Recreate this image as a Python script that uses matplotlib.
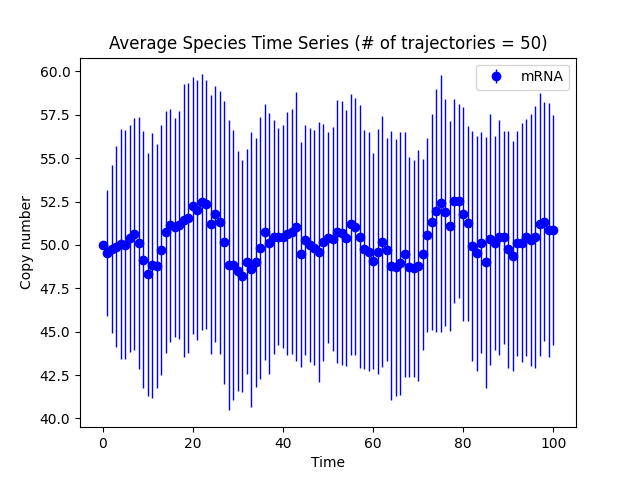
import numpy as np
import matplotlib
matplotlib.use("Agg")
import matplotlib.pyplot as plt

# time points 0..100, mean copy number and its std over the 50 trajectories
time = np.arange(101)

mean = [
    50.00, 49.55, 49.77, 49.90, 50.07, 50.02, 50.37, 50.64, 50.10, 49.14,
    48.30, 48.82, 48.78, 49.71, 50.73, 51.14, 51.02, 51.15, 51.42, 51.55,
    52.27, 52.01, 52.47, 52.33, 51.18, 51.79, 51.31, 50.15, 48.84, 48.84,
    48.51, 48.20, 49.03, 48.59, 48.99, 49.80, 50.73, 50.09, 50.48, 50.48,
    50.48, 50.65, 50.77, 51.05, 49.46, 50.27, 50.00, 49.84, 49.61, 50.15,
    50.42, 50.34, 50.77, 50.67, 50.38, 51.19, 51.05, 50.48, 49.74, 49.61,
    49.07, 49.61, 50.19, 49.71, 48.80, 48.70, 48.94, 49.46, 48.70, 48.65,
    48.80, 49.46, 50.57, 51.31, 51.96, 52.40, 51.88, 51.09, 52.54, 52.54,
    51.77, 51.25, 49.96, 49.51, 50.13, 48.99, 50.32, 50.09, 50.44, 50.44,
    49.74, 49.38, 50.09, 50.13, 50.44, 50.28, 50.44, 51.19, 51.34, 50.86,
    50.86,
]

std = [
    0.00, 3.62, 4.82, 5.78, 6.62, 6.60, 6.54, 6.68, 7.26, 7.40,
    7.02, 7.62, 7.03, 7.22, 6.98, 6.72, 6.31, 6.55, 7.86, 7.77,
    7.42, 7.50, 7.36, 7.19, 7.44, 7.37, 7.57, 8.17, 8.38, 7.76,
    6.92, 6.70, 6.48, 7.93, 7.16, 7.55, 7.39, 7.52, 6.75, 6.25,
    6.45, 7.00, 7.07, 7.74, 6.50, 6.63, 6.74, 6.77, 7.49, 6.82,
    6.09, 6.46, 7.56, 7.61, 7.38, 7.52, 7.40, 7.59, 6.90, 6.90,
    6.22, 7.08, 7.22, 6.43, 7.76, 7.43, 7.58, 7.06, 6.34, 6.25,
    6.67, 5.50, 5.59, 6.24, 7.00, 7.42, 6.54, 6.03, 5.88, 5.59,
    6.16, 5.62, 6.63, 6.79, 6.38, 7.23, 7.23, 6.17, 6.78, 6.15,
    6.81, 6.63, 6.50, 6.90, 6.84, 7.27, 7.55, 7.57, 6.88, 7.32,
    6.65,
]

fig, ax = plt.subplots(figsize=(6.4, 4.8), dpi=100)
ax.errorbar(time, mean, yerr=std, fmt="o", color="b", elinewidth=1.0, label="mRNA")
ax.set_title("Average Species Time Series (# of trajectories = 50)")
ax.set_xlabel("Time")
ax.set_ylabel("Copy number")
ax.legend(loc="upper right")
fig.savefig("out.png", dpi=100)
